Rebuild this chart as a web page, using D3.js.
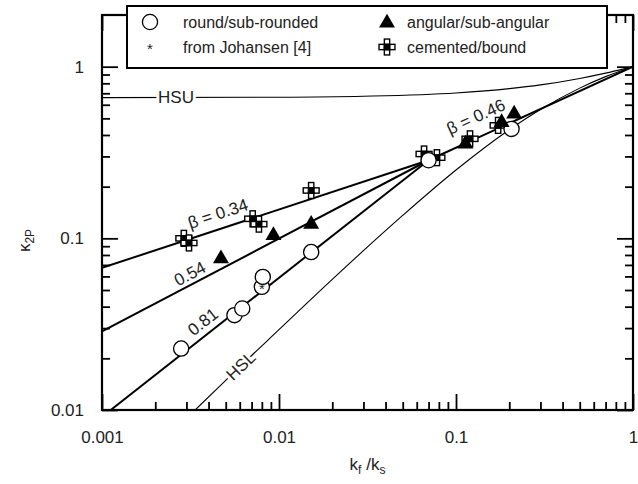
<!DOCTYPE html>
<html><head><meta charset="utf-8">
<script src="https://cdn.jsdelivr.net/npm/d3@7"></script>
<style>body{margin:0;background:#fff}svg{display:block}text{font-family:"Liberation Sans",Arial,sans-serif}</style>
</head><body><svg id="c" width="638" height="484"></svg>
<script>
// ---- data ----
const xMajorTicks = [0.001, 0.01, 0.1, 1];
const xTickLabels = ["0.001", "0.01", "0.1", "1"];
const yMajorTicks = [0.01, 0.1, 1];
const yTickLabels = ["0.01", "0.1", "1"];

const roundX = [0.0028, 0.0056, 0.0062, 0.0080, 0.0081, 0.0152, 0.070, 0.206];
const roundY = [0.0228, 0.0357, 0.0390, 0.0522, 0.0596, 0.0832, 0.285, 0.434];
const johansenX = [0.0080];
const johansenY = [0.0522];
const angularX = [0.0047, 0.0093, 0.0152, 0.113, 0.181, 0.213];
const angularY = [0.0762, 0.104, 0.121, 0.355, 0.474, 0.530];
const cementX = [0.0029, 0.0031, 0.0071, 0.0077, 0.0152, 0.066, 0.078, 0.120, 0.173];
const cementY = [0.100, 0.094, 0.130, 0.121, 0.190, 0.310, 0.295, 0.380, 0.455];

const fitNames = ["β = 0.34", "0.54", "0.81", "β = 0.46"];
const fitX = [[0.001, 0.07], [0.001, 0.07], [0.00112, 0.07], [0.07, 1]];
const fitY = [[0.0673, 0.285], [0.0287, 0.285], [0.01, 0.285], [0.285, 1]];

const hsuX = [0.001, 0.01, 0.03, 0.1, 0.2, 0.3, 0.5, 0.7, 0.9, 1];
const hsuY = [0.660, 0.664, 0.673, 0.703, 0.745, 0.783, 0.854, 0.917, 0.974, 1];
const hslX = [0.00336, 0.005, 0.01, 0.02, 0.05, 0.1, 0.2, 0.3, 0.5, 0.7, 1];
const hslY = [0.0100, 0.0149, 0.0294, 0.0577, 0.136, 0.250, 0.429, 0.563, 0.750, 0.875, 1];

const legendLabels = ["round/sub-rounded", "angular/sub-angular", "from Johansen [4]", "cemented/bound"];

// ---- chart ----
const svg = d3.select("#c");
const L = 102, R = 633, T = 15, B = 410;
const x = d3.scaleLog().domain([0.001, 1]).range([L, R]);
const y = d3.scaleLog().domain([0.01, 2]).range([B, T]);

function minors(lo, hi) {
  const out = [];
  for (let d = lo; d < hi * 0.999; d *= 10) for (let k = 2; k <= 9; k++) out.push(+(d * k).toPrecision(3));
  return out;
}
const xMinor = minors(0.001, 1);
const yMinor = minors(0.01, 1);

function addAxis(axisFn, scale, vals, size, fmt, transform, pad) {
  const a = axisFn(scale).tickValues(vals).tickSizeInner(-size).tickSizeOuter(0).tickPadding(pad || 0)
    .tickFormat(fmt || (() => ""));
  const g = svg.append("g").attr("transform", transform).call(a);
  g.select(".domain").remove();
  g.selectAll("line").attr("stroke", "#000").attr("stroke-width", 1.8);
  return g;
}
addAxis(d3.axisBottom, x, xMajorTicks, 16, (d) => xTickLabels[xMajorTicks.indexOf(d)], `translate(0,${B})`, 21);
addAxis(d3.axisBottom, x, xMinor, 8, null, `translate(0,${B})`);
addAxis(d3.axisTop, x, xMajorTicks, 16, null, `translate(0,${T})`);
addAxis(d3.axisTop, x, xMinor, 8, null, `translate(0,${T})`);
addAxis(d3.axisLeft, y, yMajorTicks, 16, (d) => yTickLabels[yMajorTicks.indexOf(d)], `translate(${L},0)`, 18);
addAxis(d3.axisLeft, y, yMinor, 8, null, `translate(${L},0)`);
addAxis(d3.axisRight, y, yMajorTicks, 16, null, `translate(${R},0)`);
addAxis(d3.axisRight, y, yMinor, 8, null, `translate(${R},0)`);

svg.selectAll(".tick text").attr("font-size", 17).attr("fill", "#222").attr("font-family", "Liberation Sans, Arial, sans-serif");

svg.append("rect").attr("x", L).attr("y", T).attr("width", R - L).attr("height", B - T)
  .attr("fill", "none").attr("stroke", "#000").attr("stroke-width", 2.2);

svg.append("clipPath").attr("id", "pc").append("rect").attr("x", L).attr("y", T).attr("width", R - L).attr("height", B - T);
const plot = svg.append("g").attr("clip-path", "url(#pc)");

const line = d3.line().x(d => x(d[0])).y(d => y(d[1]));
const curve = d3.line().x(d => x(d[0])).y(d => y(d[1])).curve(d3.curveMonotoneX);

plot.append("path").attr("d", curve(hsuX.map((v, i) => [v, hsuY[i]]))).attr("fill", "none").attr("stroke", "#000").attr("stroke-width", 1.1);
plot.append("path").attr("d", curve(hslX.map((v, i) => [v, hslY[i]]))).attr("fill", "none").attr("stroke", "#000").attr("stroke-width", 1.1);

fitX.forEach((xs, k) => {
  plot.append("path").attr("d", line(xs.map((v, i) => [v, fitY[k][i]]))).attr("fill", "none")
    .attr("stroke", "#000").attr("stroke-width", 2);
});

function lab(txt, cx, cy, rot, halo) {
  const t = svg.append("text").attr("transform", `translate(${cx},${cy}) rotate(${rot})`)
    .attr("text-anchor", "middle").attr("dominant-baseline", "central").attr("font-size", 17).attr("fill", "#222").text(txt);
  if (halo) t.attr("stroke", "#fff").attr("stroke-width", 6).attr("paint-order", "stroke");
  return t;
}
lab(fitNames[0], 218, 214, -18.3);
lab(fitNames[1], 190, 274, -27.7);
lab(fitNames[2], 203, 322, -38.2);
lab(fitNames[3], 476, 117, -24.6);
lab("HSL", x(0.0061), y(0.018), -44, true);
svg.append("text").attr("x", 176).attr("y", y(0.661)).attr("text-anchor", "middle").attr("dominant-baseline", "central")
  .attr("font-size", 17).attr("fill", "#222").attr("stroke", "#fff").attr("stroke-width", 6).attr("paint-order", "stroke").text("HSU");

const cs = 5.3;
function cross(g, cx, cy) {
  const s = cs;
  [[0, -1], [-1, 0], [1, 0], [0, 1]].forEach(c => g.append("rect").attr("x", cx + c[0] * s - s / 2).attr("y", cy + c[1] * s - s / 2)
    .attr("width", s).attr("height", s).attr("fill", "#fff").attr("stroke", "#000").attr("stroke-width", 1.4));
  g.append("rect").attr("x", cx - s / 2).attr("y", cy - s / 2).attr("width", s).attr("height", s)
    .attr("fill", "#000").attr("stroke", "#000").attr("stroke-width", 1.4);
}
function circ(g, cx, cy) {
  g.append("circle").attr("cx", cx).attr("cy", cy).attr("r", 7.6).attr("fill", "#fff").attr("stroke", "#000").attr("stroke-width", 1.3);
}
const tri = d3.symbol().type(d3.symbolTriangle).size(110);
function triangle(g, cx, cy) {
  g.append("path").attr("d", tri()).attr("transform", `translate(${cx},${cy})`).attr("fill", "#000");
}
function star(g, cx, cy) {
  g.append("text").attr("x", cx).attr("y", cy + 7).attr("text-anchor", "middle").attr("font-size", 15).attr("fill", "#222").text("*");
}

const mk = svg.append("g");
cementX.forEach((v, i) => cross(mk, x(v), y(cementY[i])));
roundX.forEach((v, i) => circ(mk, x(v), y(roundY[i])));
johansenX.forEach((v, i) => star(mk, x(v), y(johansenY[i])));
angularX.forEach((v, i) => triangle(mk, x(v), y(angularY[i])));

const lg = svg.append("g");
lg.append("rect").attr("x", 127).attr("y", 6).attr("width", 480).attr("height", 62)
  .attr("fill", "#fff").attr("stroke", "#000").attr("stroke-width", 2);
const lx1 = 150, lx2 = 387, ly1 = 22, ly2 = 47;
circ(lg, lx1, ly1);
triangle(lg, lx2, ly1 + 1);
star(lg, lx1, ly2);
cross(lg, lx2, ly2);
[[legendLabels[0], lx1 + 33, ly1], [legendLabels[1], lx2 + 20, ly1], [legendLabels[2], lx1 + 33, ly2], [legendLabels[3], lx2 + 20, ly2]]
  .forEach(t => lg.append("text").attr("x", t[1]).attr("y", t[2]).attr("dominant-baseline", "central")
  .attr("font-size", 16).attr("fill", "#222").text(t[0]));

const yt = svg.append("text").attr("transform", `translate(30,${(T + B) / 2 + 28}) rotate(-90)`).attr("text-anchor", "middle")
  .attr("font-size", 17).attr("fill", "#222");
yt.append("tspan").text("κ");
yt.append("tspan").attr("font-size", 12).attr("dy", 4).text("2P");
const xt = svg.append("text").attr("x", (L + R) / 2).attr("y", 470).attr("text-anchor", "middle").attr("font-size", 17).attr("fill", "#222");
xt.append("tspan").text("k");
xt.append("tspan").attr("font-size", 12).attr("dy", 4).text("f");
xt.append("tspan").attr("dy", -4).text(" /k");
xt.append("tspan").attr("font-size", 12).attr("dy", 4).text("s");
</script></body></html>
